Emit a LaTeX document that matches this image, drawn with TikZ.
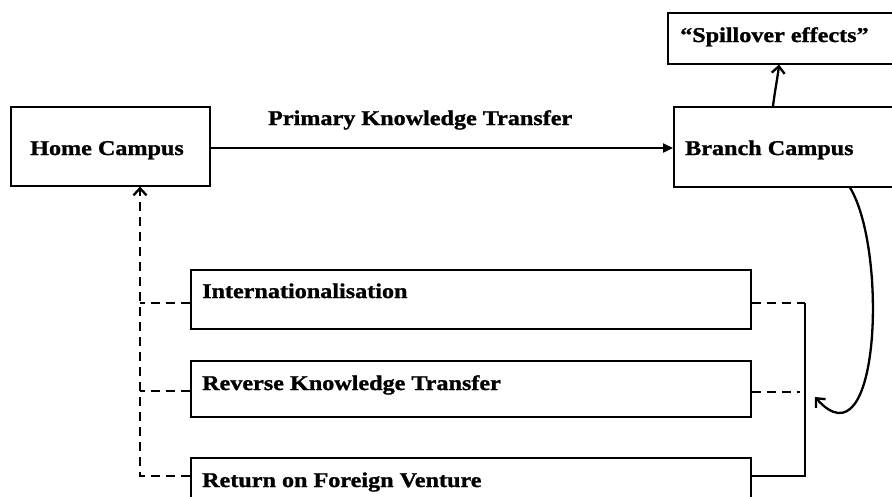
\documentclass[tikz,border=0pt]{standalone}
\usepackage{fontspec}
\setmainfont{Liberation Serif}[FakeStretch=1.15,BoldFeatures={FakeBold=1.2}]
\usetikzlibrary{arrows.meta}
\begin{document}
\begin{tikzpicture}[x=1pt,y=-1pt,
  box/.style={draw=black,line width=1.6pt,rectangle,inner sep=0pt},
  txt/.style={font=\fontsize{21}{22}\selectfont\bfseries,inner sep=0pt},
  conn/.style={line width=2.3pt},
  dconn/.style={line width=2.3pt,dash pattern=on 9pt off 6pt},
  barb/.style={-{Straight Barb[length=7pt,width=13pt,line width=2.3pt]}},
  tri/.style={-{Triangle[length=10pt,width=9pt]}}]
\useasboundingbox (0,0) rectangle (892,496);
\clip (0,0) rectangle (892,496);
% boxes
\node[box,anchor=north west,minimum width=199pt,minimum height=79pt] (home) at (10,106) {};
\node[box,anchor=north west,minimum width=230pt,minimum height=80pt] (branch) at (673,106) {};
\node[box,anchor=north west,minimum width=240pt,minimum height=51pt] (spill) at (667,12) {};
\node[box,anchor=north west,minimum width=560pt,minimum height=59pt] (int) at (190,269) {};
\node[box,anchor=north west,minimum width=560pt,minimum height=56pt] (rev) at (190,360) {};
\node[box,anchor=north west,minimum width=560pt,minimum height=60pt] (ret) at (190,457) {};
% texts
\node[txt,anchor=base west] (thome) at (30,155) {Home Campus};
\node[txt,anchor=base west] (tbranch) at (685,155) {Branch Campus};
\node[txt,anchor=base west] (tspill) at (680,42) {“Spillover effects”};
\node[txt,anchor=base west] (tint) at (202,298) {Internationalisation};
\node[txt,anchor=base west] (trev) at (202,390) {Reverse Knowledge Transfer};
\node[txt,anchor=base west] (tret) at (202,487) {Return on Foreign Venture};
\node[txt,anchor=base west] (tpkt) at (268,125) {Primary Knowledge Transfer};
% primary arrow
\draw[conn,tri] (home.east |- 0,148) -- (branch.west |- 0,148);
% spillover arrow
\draw[conn,barb] ([xshift=100pt]branch.north west) .. controls (775,90) and (778,75) .. ([xshift=112pt]spill.south west);
% left dashed
\coordinate (lb) at (140,476);
\coordinate (li) at (140,303);
\coordinate (lr) at (140,391);
\draw[dconn,barb] (ret.west |- lb) -- (lb) -- (home.south -| lb);
\draw[dconn] (int.west |- li) -- (li);
\draw[dconn] (rev.west |- lr) -- (lr);
% right side
\coordinate (ri) at (805,303);
\coordinate (rr) at (800,392);
\coordinate (rb) at (805,476);
\draw[dconn] (int.east |- ri) -- (ri);
\draw[dconn] (rev.east |- rr) -- (rr);
\draw[conn] (ri) -- (rb) -- (ret.east |- rb);
% curved arrow
\coordinate (ce) at (815,397);
\draw[conn,barb] ([xshift=177pt]branch.south west) .. controls (888,250) and (880,470) .. (ce);
\end{tikzpicture}
\end{document}
